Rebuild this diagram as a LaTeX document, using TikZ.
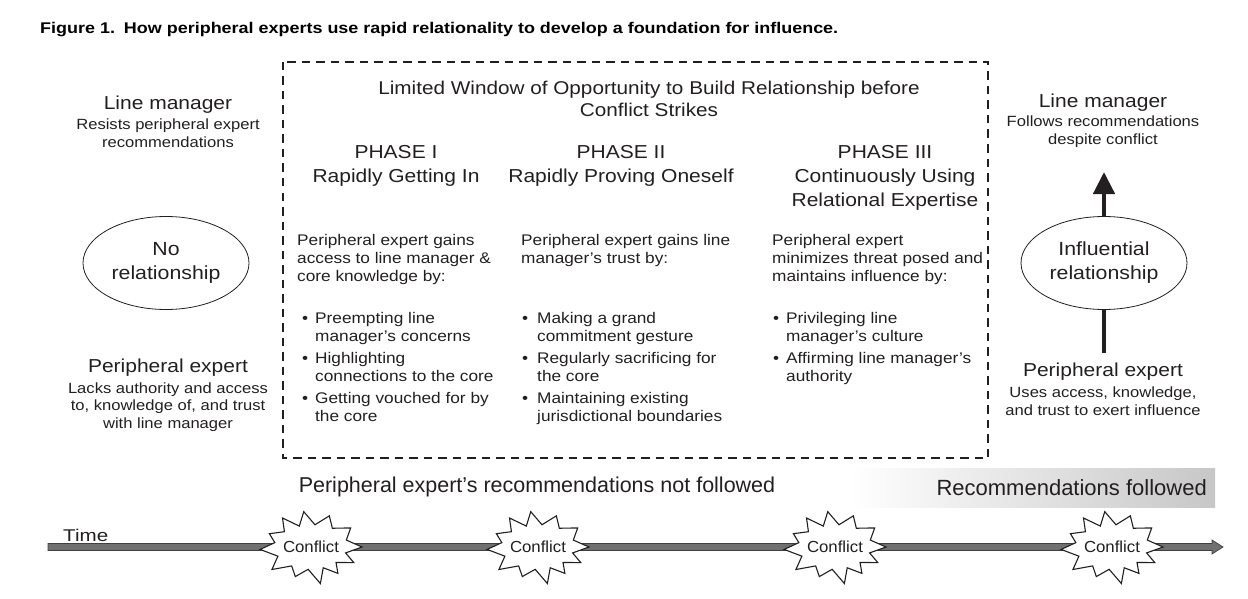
\documentclass[tikz,border=0pt]{standalone}
\usepackage{fontspec}
\setmainfont{Liberation Sans}[FakeStretch=1.12]
\newfontfamily\plainfont{Liberation Sans}
\usetikzlibrary{shapes.geometric,arrows.meta}
\definecolor{ink}{HTML}{231F20}
\definecolor{barfill}{HTML}{707070}
\begin{document}
\begin{tikzpicture}[x=1pt,y=-1pt,
  every node/.style={text=ink, inner sep=0pt},
  head/.style={font=\fontsize{18.75}{24}\selectfont, align=center},
  sub/.style={font=\fontsize{14.8}{17.5}\selectfont, align=center},
  body/.style={font=\fontsize{15.4}{18}\selectfont, align=left, anchor=north west},
  rel/.style={ellipse, draw=ink, line width=0.8pt, minimum width=166pt, minimum height=93pt,
              font=\fontsize{19}{24}\selectfont, align=center},
  dashbox/.style={draw=ink, line width=1.9pt, dash pattern=on 8.5pt off 6pt},
  burst/.style={draw=ink, fill=white, line width=1.1pt, line join=miter},
  heavy/.style={draw=ink, line width=4.5pt},
  burstpic/.pic={
    \path[burst, xscale=51, yscale=35]
      (0:1) -- (14:0.7) -- (28:0.95) -- (42:0.66) -- (55:0.92) -- (68:0.64)
      -- (80:1.06) -- (95:0.64) -- (110:0.9) -- (125:0.66) -- (140:1.0)
      -- (158:0.7) -- (176:1.0) -- (190:0.72) -- (205:0.9) -- (220:0.68)
      -- (236:1.0) -- (249:0.64) -- (262:1.02) -- (277:0.64) -- (292:0.96)
      -- (308:0.68) -- (325:0.95) -- (344:0.72) -- cycle;
  }
]
\useasboundingbox (0,0) rectangle (1248,599);

% title
\node[anchor=west, text=black] (title) at (40,30)
  {\resizebox{798pt}{\height}{\plainfont\bfseries\fontsize{15.5}{16}\selectfont Figure 1.\enspace How peripheral experts use rapid relationality to develop a foundation for influence.}};

% left column
\node[head] (lmL) at (168,105) {Line manager};
\node[sub] (lmLsub) at (168,133) {Resists peripheral expert\\recommendations};
\node[rel] (noRel) at (166,263) {No\\relationship};
\node[head] (peL) at (168,368) {Peripheral expert};
\node[sub] (peLsub) at (168,407) {Lacks authority and access\\to, knowledge of, and trust\\with line manager};

% dashed window
\draw[dashbox] (283,62) rectangle (988,458);
\node[head, font=\fontsize{18.5}{22}\selectfont] (window) at (649,99)
  {Limited Window of Opportunity to Build Relationship before\\Conflict Strikes};

\node[head] (ph1) at (396,166) {PHASE I\\Rapidly Getting In};
\node[head] (ph2) at (621,166) {PHASE II\\Rapidly Proving Oneself};
\node[head] (ph3) at (885,178) {PHASE III\\Continuously Using\\Relational Expertise};

\node[body] (in1) at (297,234) {Peripheral expert gains\\access to line manager \&\\core knowledge by:};
\node[body] (in2) at (521,234) {Peripheral expert gains line\\manager’s trust by:};
\node[body] (in3) at (772,234) {Peripheral expert\\minimizes threat posed and\\maintains influence by:};

\node[body] (b11) at (302,312) {\makebox[13pt][l]{\textbullet}Preempting line\\\hspace*{13pt}manager’s concerns};
\node[body] (b12) at (302,352) {\makebox[13pt][l]{\textbullet}Highlighting\\\hspace*{13pt}connections to the core};
\node[body] (b13) at (302,392) {\makebox[13pt][l]{\textbullet}Getting vouched for by\\\hspace*{13pt}the core};

\node[body] (b21) at (522,312) {\makebox[15pt][l]{\textbullet}Making a grand\\\hspace*{15pt}commitment gesture};
\node[body] (b22) at (522,352) {\makebox[15pt][l]{\textbullet}Regularly sacrificing for\\\hspace*{15pt}the core};
\node[body] (b23) at (522,392) {\makebox[15pt][l]{\textbullet}Maintaining existing\\\hspace*{15pt}jurisdictional boundaries};

\node[body] (b31) at (773,312) {\makebox[13pt][l]{\textbullet}Privileging line\\\hspace*{13pt}manager’s culture};
\node[body] (b32) at (773,352) {\makebox[13pt][l]{\textbullet}Affirming line manager’s\\\hspace*{13pt}authority};

% right column
\node[head] (lmR) at (1103,103) {Line manager};
\node[sub] (lmRsub) at (1103,131.5) {Follows recommendations\\despite conflict};
\node[rel] (inflR) at (1104,263) {Influential\\relationship};
\node[head] (peR) at (1103,372) {Peripheral expert};
\node[sub] (peRsub) at (1103,401) {Uses access, knowledge,\\and trust to exert influence};
\coordinate (tipR) at (1104,172);
\coordinate (footR) at (1104,353);
\draw[heavy, -{Triangle[width=21pt,length=22pt]}] (inflR.north) -- (tipR);
\draw[heavy] (footR) -- (inflR.south);

% bottom labels
\node[font=\plainfont\fontsize{21.5}{22}\selectfont] (notf) at (537,487)
  {Peripheral expert’s recommendations not followed};
\node[rectangle, minimum width=365pt, minimum height=39pt, left color=white, right color=black!22] (recbox) at (1032.5,487.5) {};
\node[anchor=east, font=\plainfont\fontsize{22}{22}\selectfont] (rec) at (1207,488) {Recommendations followed};

% time line
\draw[fill=barfill, draw=black!75, line width=0.7pt]
  (48,543.5) -- (1212,543.5) -- (1212,540) -- (1223,547) -- (1212,554) -- (1212,550.5) -- (48,550.5) -- cycle;
\node[anchor=base west] (time) at (63,541)
  {\resizebox{45pt}{\height}{\plainfont\fontsize{17}{17}\selectfont Time}};

\coordinate (s1) at (311,547);
\coordinate (s2) at (538,547);
\coordinate (s3) at (835,547);
\coordinate (s4) at (1112,547);
\pic at (s1) {burstpic};
\pic at (s2) {burstpic};
\pic at (s3) {burstpic};
\pic at (s4) {burstpic};
\node (c1) at (s1) {\resizebox{56pt}{\height}{\plainfont\fontsize{16}{16}\selectfont Conflict}};
\node (c2) at (s2) {\resizebox{56pt}{\height}{\plainfont\fontsize{16}{16}\selectfont Conflict}};
\node (c3) at (s3) {\resizebox{56pt}{\height}{\plainfont\fontsize{16}{16}\selectfont Conflict}};
\node (c4) at (s4) {\resizebox{56pt}{\height}{\plainfont\fontsize{16}{16}\selectfont Conflict}};
\end{tikzpicture}
\end{document}
